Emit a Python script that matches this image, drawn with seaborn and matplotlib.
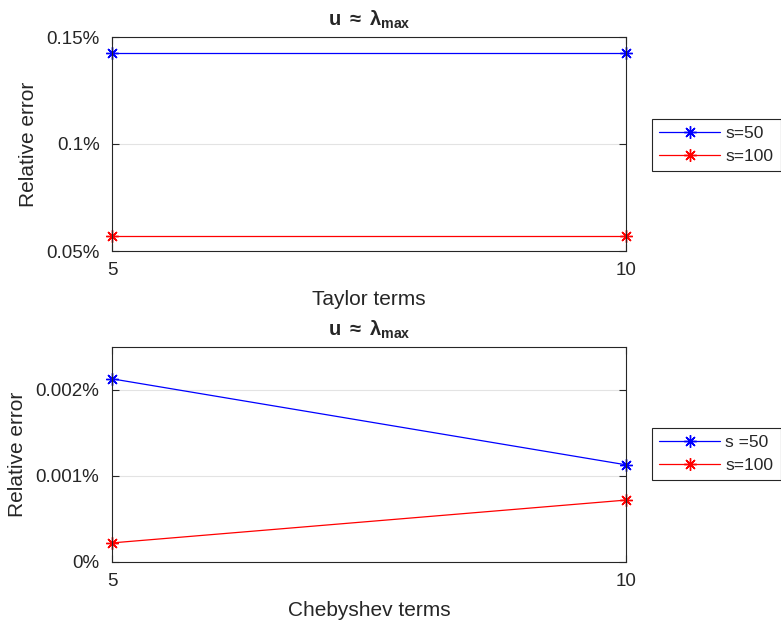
import matplotlib
matplotlib.use("Agg")
import matplotlib.pyplot as plt
import seaborn as sns
import pandas as pd

terms = [5, 10]
taylor_s50 = [0.1427, 0.1427]
taylor_s100 = [0.0570, 0.0570]
cheb_s50 = [0.00213, 0.00113]
cheb_s100 = [0.000222, 0.00072]
top_labels = ["s=50", "s=100"]
bot_labels = ["s =50", "s=100"]
top_yticks = [0.05, 0.1, 0.15]
top_yticklabels = ["0.05%", "0.1%", "0.15%"]
bot_yticks = [0, 0.001, 0.002]
bot_yticklabels = ["0%", "0.001%", "0.002%"]

sns.set_theme(style="white")
plt.rcParams['font.family'] = ['Liberation Sans', 'DejaVu Sans']
plt.rcParams['mathtext.fontset'] = 'custom'
plt.rcParams['mathtext.rm'] = 'Liberation Sans'
plt.rcParams['mathtext.bf'] = 'Liberation Sans:bold'
plt.rcParams['mathtext.it'] = 'Liberation Sans:italic'

W, H = 781, 620
fig = plt.figure(figsize=(W / 100, H / 100), dpi=100)

def ax_rect(l, t, r, b):
    return [l / W, 1 - b / H, (r - l) / W, (b - t) / H]

ax1 = fig.add_axes(ax_rect(112, 37, 626, 251))
ax2 = fig.add_axes(ax_rect(112, 347, 626, 562))

ast = (8, 2, 0)
colors = ["#0000ff", "#ff0000"]

def style_line(ln):
    c = ln.get_color()
    ln.set_markeredgecolor(c)
    ln.set_markerfacecolor(c)
    ln.set_markeredgewidth(1.0)
    ln.set_markersize(9)

def draw(ax, s50, s100, labels, xlabel, ylim, yticks, yticklabels, legend_y):
    df = pd.DataFrame({
        "terms": terms * 2,
        "err": list(s50) + list(s100),
        "series": [labels[0]] * 2 + [labels[1]] * 2,
    })
    sns.lineplot(data=df, x="terms", y="err", hue="series",
                 palette={labels[0]: colors[0], labels[1]: colors[1]},
                 marker=ast, linewidth=0.9, ax=ax, legend=True)
    for ln in ax.lines:
        style_line(ln)
        ln.set_clip_on(False)
    ax.set_xlim(5, 10)
    ax.set_ylim(*ylim)
    ax.set_xticks(terms)
    ax.set_xticklabels([str(t) for t in terms])
    ax.set_yticks(yticks)
    ax.set_yticklabels(yticklabels)
    ax.yaxis.grid(True, color="#e3e3e3", linewidth=0.8)
    ax.xaxis.grid(False)
    ax.set_axisbelow(True)
    ax.tick_params(direction="in", length=5, width=0.8, color="#262626",
                   labelsize=13.5, labelcolor="#262626", right=True, top=True,
                   left=True, bottom=True)
    ax.tick_params(axis="y", pad=9)
    ax.tick_params(axis="x", pad=8)
    for sp in ax.spines.values():
        sp.set_color("#262626")
        sp.set_linewidth(0.8)
        sp.set_visible(True)
    ax.set_xlabel(xlabel, fontsize=15, color="#262626", labelpad=8)
    ax.set_ylabel("Relative error", fontsize=15, color="#262626", labelpad=6)
    ax.set_title(r"$\mathbf{u\ \approx\ \lambda_{max}}$", fontsize=14.5, pad=8)
    handles, labs = ax.get_legend_handles_labels()
    for h in handles:
        style_line(h)
    leg = ax.legend(handles, labs, loc="center left",
                    bbox_to_anchor=(652 / W, legend_y), bbox_transform=fig.transFigure,
                    fontsize=12.5, frameon=True, fancybox=False, framealpha=1,
                    edgecolor="#262626", handlelength=3.5, borderpad=0.42,
                    labelspacing=0.42, handletextpad=0.3, borderaxespad=0,
                    title=None)
    leg.get_frame().set_linewidth(0.8)

draw(ax1, taylor_s50, taylor_s100, top_labels, "Taylor terms", (0.05, 0.15),
     top_yticks, top_yticklabels, 1 - 145 / H)
draw(ax2, cheb_s50, cheb_s100, bot_labels, "Chebyshev terms", (0, 0.0025),
     bot_yticks, bot_yticklabels, 1 - 454 / H)

fig.savefig("out.png", dpi=100, facecolor="white")
